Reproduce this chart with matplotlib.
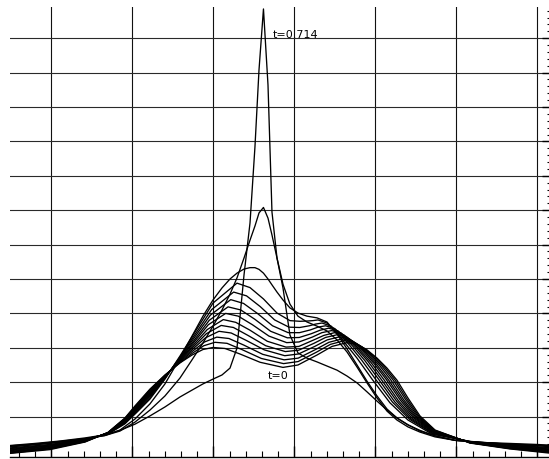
import numpy as np
import matplotlib
matplotlib.use("Agg")
import matplotlib.pyplot as plt
from matplotlib.ticker import MultipleLocator

# ---- profiles t = 0 ... t = 0.5 (x positions follow the humps) ----
x00 = [-0.512, -0.019, 0.414, 0.698, 0.907, 1.031, 1.216, 1.401, 1.586, 1.735, 1.870, 1.994, 2.142, 2.327, 2.574, 2.858, 3.043, 3.278, 3.463, 3.648, 3.772, 3.895, 4.019, 4.142, 4.265, 4.401, 4.549, 4.735, 5.167, 5.660, 6.142]
u00 = [-0.07, 0.04, 0.26, 0.54, 0.96, 1.31, 1.80, 2.21, 2.56, 2.79, 2.95, 3.01, 2.98, 2.82, 2.58, 2.43, 2.50, 2.79, 3.04, 3.15, 3.10, 2.94, 2.70, 2.41, 2.06, 1.54, 1.02, 0.61, 0.23, 0.06, -0.06]
x01 = [-0.512, -0.019, 0.414, 0.698, 0.907, 1.033, 1.216, 1.401, 1.586, 1.738, 1.880, 2.018, 2.167, 2.350, 2.591, 2.865, 3.045, 3.269, 3.444, 3.619, 3.742, 3.865, 3.987, 4.112, 4.240, 4.383, 4.537, 4.732, 5.167, 5.660, 6.142]
u01 = [-0.06, 0.06, 0.27, 0.54, 0.95, 1.29, 1.78, 2.20, 2.57, 2.84, 3.06, 3.16, 3.13, 2.95, 2.69, 2.54, 2.60, 2.87, 3.10, 3.21, 3.15, 2.98, 2.74, 2.44, 2.07, 1.53, 1.01, 0.60, 0.24, 0.07, -0.04]
x02 = [-0.512, -0.019, 0.414, 0.698, 0.907, 1.035, 1.216, 1.401, 1.586, 1.741, 1.890, 2.041, 2.191, 2.373, 2.608, 2.872, 3.047, 3.260, 3.425, 3.591, 3.713, 3.836, 3.956, 4.083, 4.216, 4.365, 4.525, 4.729, 5.167, 5.660, 6.142]
u02 = [-0.04, 0.07, 0.28, 0.53, 0.93, 1.28, 1.76, 2.19, 2.59, 2.90, 3.17, 3.31, 3.27, 3.08, 2.81, 2.65, 2.70, 2.95, 3.16, 3.26, 3.20, 3.02, 2.77, 2.46, 2.07, 1.52, 1.00, 0.59, 0.24, 0.08, -0.03]
x03 = [-0.512, -0.019, 0.414, 0.698, 0.907, 1.037, 1.216, 1.401, 1.586, 1.744, 1.901, 2.068, 2.219, 2.400, 2.627, 2.880, 3.049, 3.250, 3.404, 3.558, 3.679, 3.802, 3.920, 4.049, 4.188, 4.345, 4.512, 4.726, 5.167, 5.660, 6.142]
u03 = [-0.03, 0.09, 0.28, 0.53, 0.92, 1.26, 1.73, 2.18, 2.61, 2.96, 3.29, 3.48, 3.43, 3.22, 2.94, 2.77, 2.82, 3.04, 3.23, 3.32, 3.25, 3.06, 2.81, 2.49, 2.07, 1.50, 0.99, 0.58, 0.24, 0.09, -0.01]
x04 = [-0.512, -0.019, 0.414, 0.698, 0.907, 1.040, 1.216, 1.401, 1.586, 1.748, 1.912, 2.095, 2.247, 2.426, 2.645, 2.887, 3.052, 3.240, 3.383, 3.526, 3.646, 3.769, 3.884, 4.016, 4.160, 4.326, 4.499, 4.722, 5.167, 5.660, 6.142]
u04 = [-0.01, 0.10, 0.29, 0.53, 0.90, 1.25, 1.70, 2.17, 2.63, 3.02, 3.41, 3.65, 3.59, 3.36, 3.06, 2.89, 2.93, 3.13, 3.30, 3.38, 3.31, 3.10, 2.85, 2.51, 2.07, 1.49, 0.98, 0.57, 0.25, 0.10, 0.01]
x05 = [-0.512, -0.019, 0.414, 0.698, 0.907, 1.042, 1.216, 1.401, 1.586, 1.751, 1.923, 2.121, 2.275, 2.452, 2.664, 2.895, 3.054, 3.230, 3.362, 3.494, 3.612, 3.736, 3.849, 3.983, 4.133, 4.306, 4.485, 4.719, 5.167, 5.660, 6.142]
u05 = [0.01, 0.12, 0.30, 0.52, 0.89, 1.23, 1.68, 2.16, 2.65, 3.08, 3.53, 3.82, 3.74, 3.51, 3.19, 3.02, 3.04, 3.22, 3.36, 3.44, 3.37, 3.15, 2.89, 2.54, 2.08, 1.48, 0.97, 0.56, 0.25, 0.11, 0.02]
x06 = [-0.512, -0.019, 0.414, 0.698, 0.907, 1.044, 1.216, 1.401, 1.586, 1.755, 1.936, 2.151, 2.306, 2.481, 2.685, 2.904, 3.056, 3.219, 3.338, 3.458, 3.575, 3.699, 3.809, 3.946, 4.102, 4.283, 4.471, 4.715, 5.167, 5.660, 6.142]
u06 = [0.03, 0.14, 0.31, 0.52, 0.87, 1.22, 1.65, 2.15, 2.67, 3.15, 3.67, 4.00, 3.92, 3.67, 3.34, 3.15, 3.17, 3.31, 3.44, 3.50, 3.43, 3.20, 2.93, 2.57, 2.08, 1.46, 0.96, 0.55, 0.26, 0.13, 0.04]
x07 = [-0.512, -0.019, 0.414, 0.698, 0.907, 1.047, 1.216, 1.401, 1.586, 1.758, 1.948, 2.180, 2.337, 2.510, 2.706, 2.912, 3.059, 3.208, 3.315, 3.422, 3.538, 3.662, 3.770, 3.909, 4.071, 4.261, 4.456, 4.712, 5.167, 5.660, 6.142]
u07 = [0.05, 0.15, 0.32, 0.51, 0.85, 1.20, 1.62, 2.14, 2.69, 3.21, 3.80, 4.19, 4.10, 3.83, 3.48, 3.29, 3.30, 3.41, 3.51, 3.57, 3.49, 3.25, 2.98, 2.60, 2.08, 1.45, 0.94, 0.54, 0.26, 0.14, 0.06]
x08 = [-0.512, -0.019, 0.414, 0.698, 0.907, 1.050, 1.216, 1.401, 1.586, 1.762, 1.962, 2.213, 2.371, 2.542, 2.729, 2.922, 3.062, 3.196, 3.289, 3.383, 3.497, 3.621, 3.726, 3.868, 4.037, 4.237, 4.439, 4.708, 5.167, 5.660, 6.142]
u08 = [0.07, 0.17, 0.33, 0.51, 0.83, 1.18, 1.59, 2.12, 2.71, 3.29, 3.95, 4.40, 4.29, 4.00, 3.64, 3.44, 3.44, 3.52, 3.60, 3.64, 3.56, 3.30, 3.03, 2.63, 2.09, 1.43, 0.93, 0.52, 0.27, 0.16, 0.08]
x09 = [-0.512, -0.019, 0.414, 0.698, 0.907, 1.053, 1.216, 1.401, 1.586, 1.767, 1.977, 2.249, 2.408, 2.576, 2.755, 2.932, 3.065, 3.183, 3.261, 3.340, 3.453, 3.577, 3.678, 3.824, 4.000, 4.210, 4.422, 4.703, 5.167, 5.660, 6.142]
u09 = [0.09, 0.19, 0.34, 0.50, 0.81, 1.16, 1.55, 2.11, 2.73, 3.37, 4.11, 4.62, 4.51, 4.20, 3.81, 3.60, 3.59, 3.64, 3.69, 3.72, 3.63, 3.36, 3.08, 2.66, 2.09, 1.42, 0.92, 0.51, 0.27, 0.17, 0.10]
x10 = [-0.512, -0.019, 0.414, 0.698, 0.907, 1.056, 1.216, 1.401, 1.586, 1.772, 1.994, 2.290, 2.451, 2.617, 2.784, 2.944, 3.068, 3.167, 3.228, 3.290, 3.401, 3.525, 3.623, 3.772, 3.957, 4.179, 4.401, 4.698, 5.167, 5.660, 6.142]
u10 = [0.12, 0.22, 0.35, 0.49, 0.79, 1.13, 1.51, 2.09, 2.76, 3.46, 4.30, 4.88, 4.75, 4.42, 4.01, 3.79, 3.77, 3.78, 3.79, 3.81, 3.72, 3.43, 3.14, 2.70, 2.09, 1.40, 0.90, 0.49, 0.28, 0.19, 0.13]

# ---- last three profiles, up to t = 0.714 ----
xs = [-0.512, -0.204, 0.105, 0.414, 0.660, 0.846, 1.031, 1.216, 1.401, 1.586,
      1.735, 1.870, 1.994, 2.105, 2.204, 2.290, 2.377, 2.451, 2.512, 2.562,
      2.617, 2.673, 2.722, 2.784, 2.858, 2.944, 3.043, 3.154, 3.278, 3.401,
      3.525, 3.648, 3.772, 3.895, 4.019, 4.142, 4.265, 4.401, 4.549, 4.735,
      4.981, 5.290, 5.660, 5.994, 6.142]
u11 = [0.13, 0.19, 0.26, 0.35, 0.45, 0.61, 0.93, 1.37, 1.95, 2.70, 3.34, 3.92, 4.39, 4.74, 5.00, 5.17, 5.29, 5.33, 5.33, 5.28, 5.17, 5.00, 4.83, 4.62, 4.39, 4.16, 4.01, 3.92, 3.87, 3.75, 3.40, 2.97, 2.50, 2.03, 1.60, 1.22, 0.96, 0.76, 0.60, 0.44, 0.31, 0.25, 0.19, 0.16, 0.15]
u12 = [0.15, 0.20, 0.28, 0.36, 0.45, 0.58, 0.84, 1.19, 1.60, 2.12, 2.65, 3.14, 3.63, 4.10, 4.56, 5.03, 5.61, 6.13, 6.54, 6.92, 7.08, 6.77, 6.28, 5.61, 4.85, 4.27, 3.92, 3.75, 3.63, 3.49, 3.23, 2.88, 2.44, 1.98, 1.54, 1.16, 0.90, 0.70, 0.55, 0.41, 0.31, 0.25, 0.20, 0.17, 0.16]
u13 = [0.16, 0.22, 0.29, 0.38, 0.47, 0.60, 0.78, 1.02, 1.28, 1.57, 1.77, 1.95, 2.09, 2.21, 2.41, 2.99, 5.12, 6.63, 8.84, 11.08, 12.85, 10.64, 6.95, 5.61, 4.74, 3.37, 2.85, 2.70, 2.59, 2.47, 2.35, 2.18, 1.98, 1.72, 1.45, 1.19, 0.96, 0.76, 0.58, 0.44, 0.31, 0.25, 0.22, 0.19, 0.17]

curves = [(x00, u00), (x01, u01), (x02, u02), (x03, u03), (x04, u04), (x05, u05),
          (x06, u06), (x07, u07), (x08, u08), (x09, u09), (x10, u10),
          (xs, u11), (xs, u12), (xs, u13)]

fig = plt.figure(figsize=(5.49, 4.59), dpi=100)
ax = fig.add_axes([10 / 549, 2.5 / 459, 539 / 549, 449.5 / 459])

# grid
for gx in range(0, 7):
    ax.axvline(gx, color="#111111", lw=0.8, zorder=1)
for gy in range(1, 13):
    ax.axhline(gy, color="#2a2a2a", lw=0.8, zorder=1)

for cx, cu in curves:
    ax.plot(cx, cu, color="black", lw=0.95, zorder=3)

ax.text(2.731, 12.09, "t=0.714", fontsize=8, va="center", ha="left")
ax.text(2.673, 2.18, "t=0", fontsize=8, va="center", ha="left")

ax.set_xlim(-0.512, 6.142)
ax.set_ylim(-0.16, 12.907)

for s in ["top", "left", "right"]:
    ax.spines[s].set_visible(False)
ax.spines["bottom"].set_linewidth(1.0)

ax.xaxis.set_major_locator(MultipleLocator(1))
ax.xaxis.set_minor_locator(MultipleLocator(0.2))
ax.yaxis.set_major_locator(MultipleLocator(1))
ax.yaxis.set_minor_locator(MultipleLocator(0.2))
ax.tick_params(axis="x", which="major", direction="in", length=8, width=1, labelbottom=False)
ax.tick_params(axis="x", which="minor", direction="in", length=4.3, width=0.8)
ax.tick_params(axis="y", which="both", direction="in", left=False, right=True,
               labelleft=False, labelright=False)
ax.tick_params(axis="y", which="major", length=5, width=1)
ax.tick_params(axis="y", which="minor", length=1.6, width=0.8)

fig.savefig("out.png", dpi=100)
